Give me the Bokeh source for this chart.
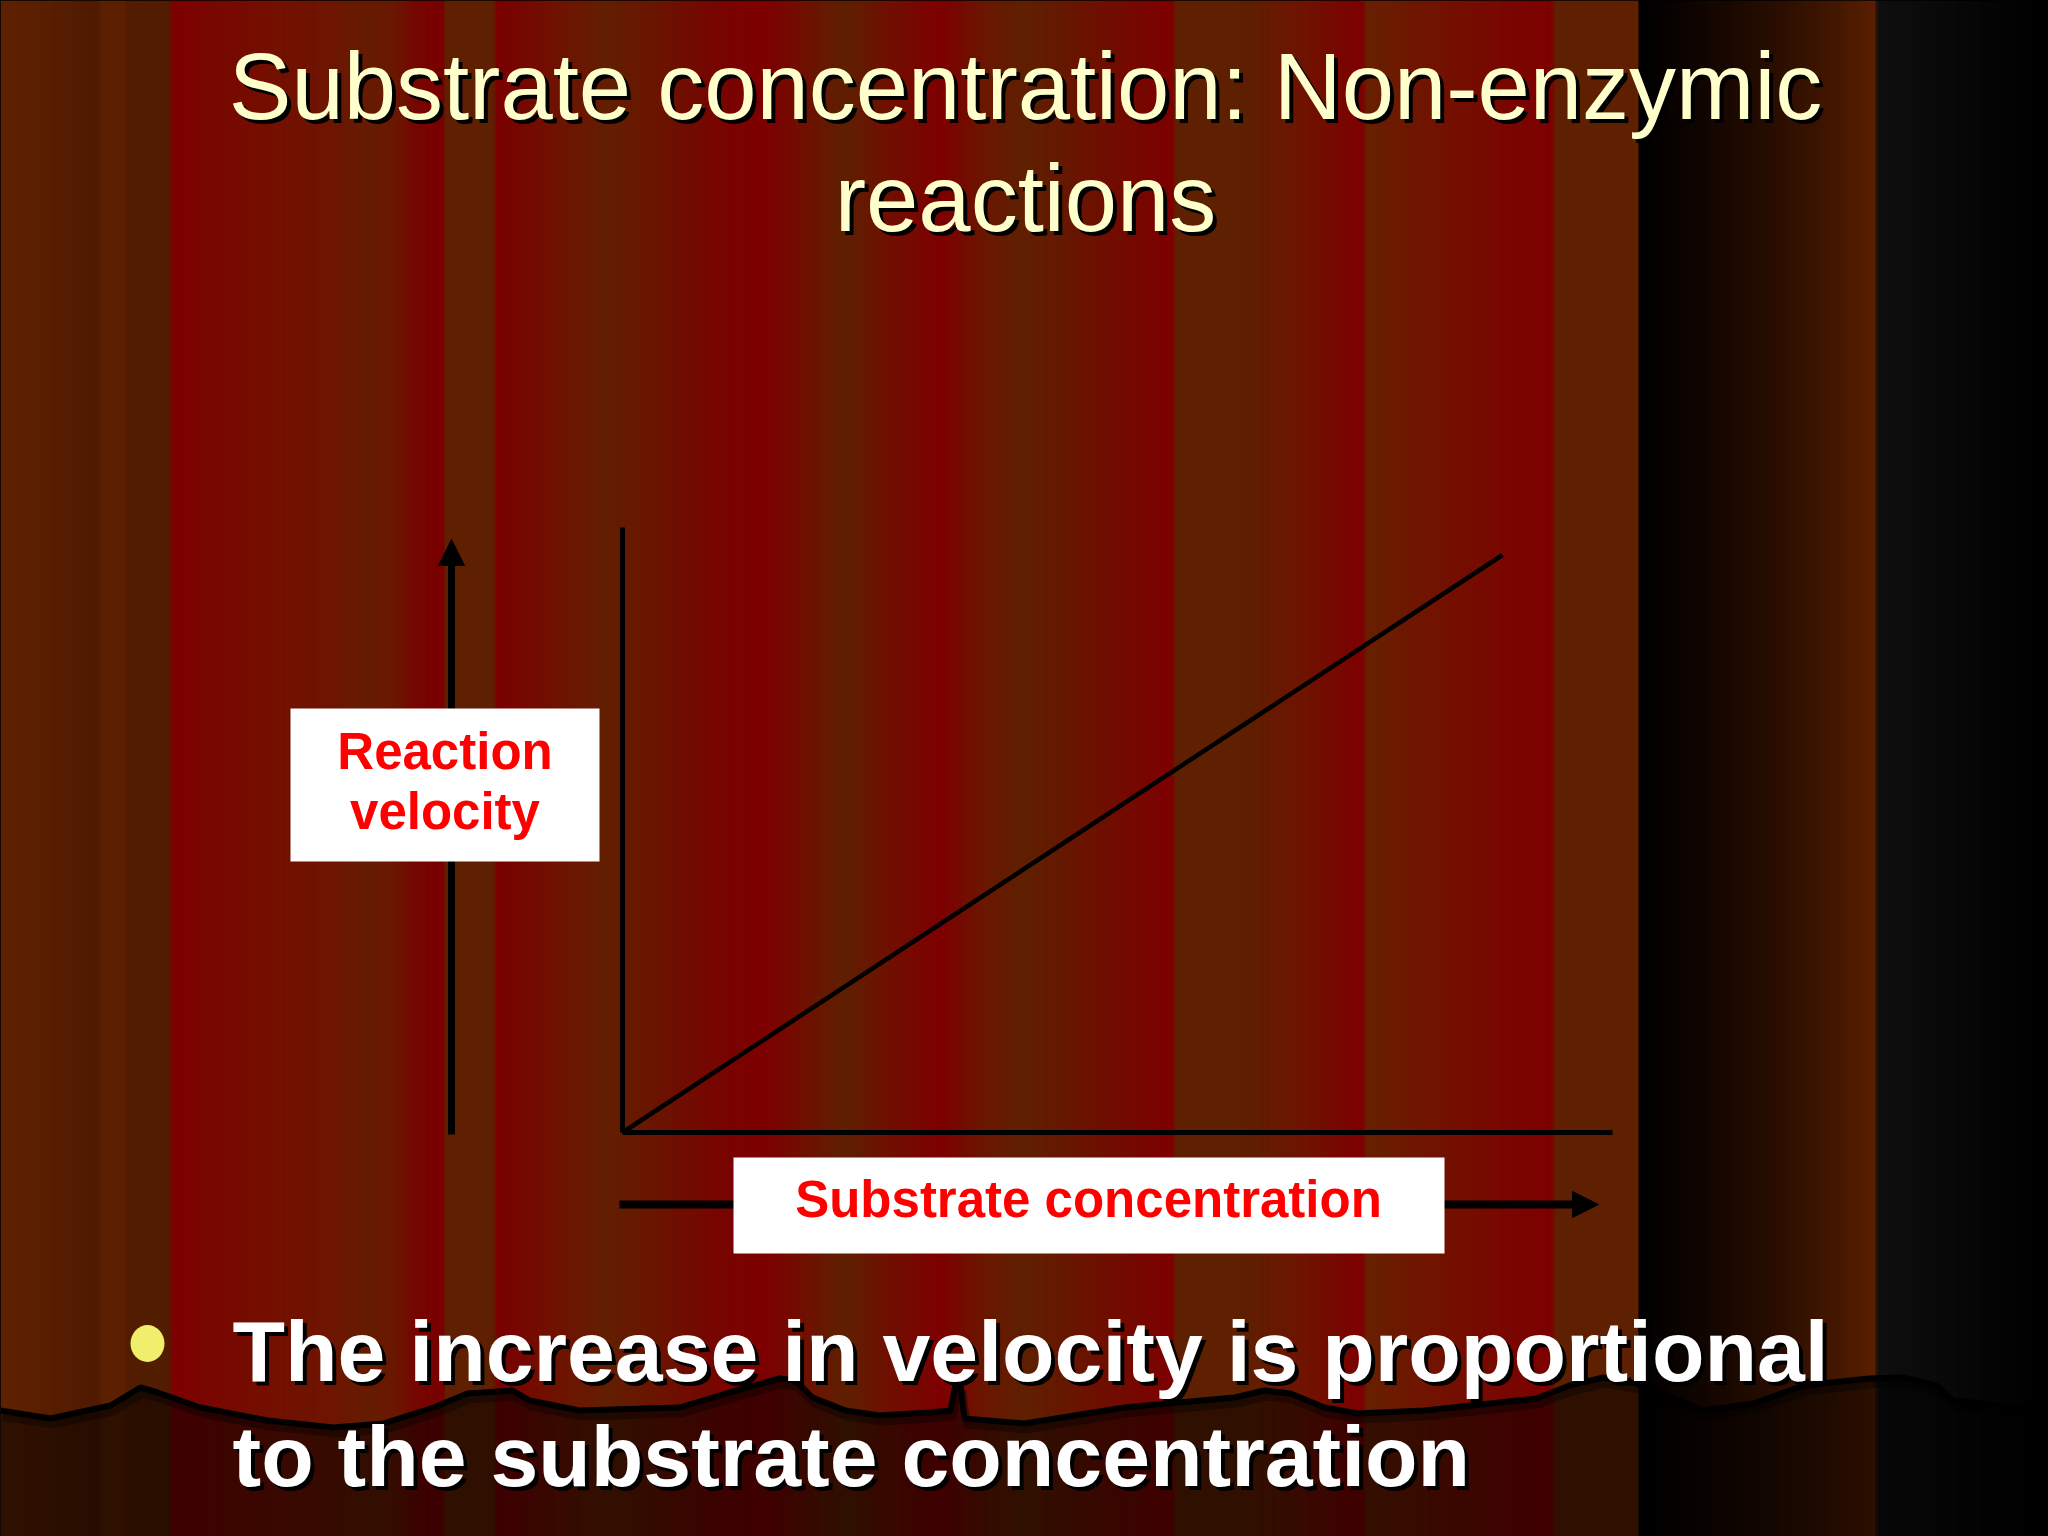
import numpy as np
from bokeh.plotting import figure
from bokeh.models import Range1d, ColumnDataSource
from bokeh.embed import file_html
from bokeh.resources import INLINE
from bokeh.core.properties import value

# ---------------- data ----------------
substrate_concentration = [0, 8]
reaction_velocity = [0, 5.25]
x_axis_extent = [0, 9]
y_axis_extent = [0, 5.5]

title_lines = ["Substrate concentration: Non-enzymic", "reactions"]
bullet_lines = ["The increase in velocity is proportional", "to the substrate concentration"]
y_label_lines = ["Reaction", "velocity"]
x_label = ["Substrate concentration"]

# ---------------- layout / style ----------------
W, H = 2048, 1536
X0, Y0, S = 622, 1132, 110   # chart origin (px) and px per data unit
FONT = value("Liberation Sans")
BL = 0.345                   # baseline correction (fraction of font size)

p = figure(width=W, height=H, x_range=Range1d(0, W), y_range=Range1d(H, 0),
           output_backend="svg", toolbar_location=None, min_border=0,
           x_axis_location=None, y_axis_location=None,
           outline_line_color=None, background_fill_color="#000000",
           border_fill_color="#000000")
p.grid.visible = False
p.extra_x_ranges = {"data": Range1d(-X0 / S, (W - X0) / S)}
p.extra_y_ranges = {"data": Range1d(-(H - Y0) / S, Y0 / S)}

# curtain background stripes (decoration)
stops = [
    (0, "#5f2100"), (40, "#5a1f00"), (98, "#4f1a00"), (101, "#5c2000"), (124, "#5c2000"),
    (126, "#521c00"), (169, "#521c00"),
    (171, "#7e0000"), (216, "#780800"), (274, "#741000"), (327, "#6e1500"), (366, "#661c00"),
    (392, "#6a1800"), (418, "#760600"), (443, "#7a0000"),
    (445, "#5e2000"), (493, "#5e2000"),
    (495, "#7a0000"), (555, "#701200"), (607, "#631f00"), (653, "#6a1500"), (718, "#780500"),
    (764, "#7e0000"), (803, "#701000"), (843, "#5e2000"), (888, "#701000"), (940, "#7e0000"),
    (986, "#6a1800"), (1024, "#5f2000"), (1089, "#6c1200"), (1173, "#7e0000"),
    (1175, "#5e2000"), (1240, "#5e2000"), (1298, "#6e1500"), (1363, "#7e0000"),
    (1365, "#682000"), (1449, "#741000"), (1552, "#7e0000"),
    (1554, "#5e2000"), (1637, "#5e2000"),
    (1639, "#000000"), (1710, "#140600"), (1775, "#2a0e00"), (1840, "#461800"), (1875, "#5a2000"),
    (1877, "#0f0f0f"), (2048, "#000000"),
]
sx = np.array([s[0] for s in stops], dtype=float)
srgb = np.array([[int(c[1:3], 16), int(c[3:5], 16), int(c[5:7], 16)] for _, c in stops], dtype=float)
step = 3
left = np.arange(0, W, step)
cent = left + step / 2
cols = []
for cx in cent:
    r = np.interp(cx, sx, srgb[:, 0]); g = np.interp(cx, sx, srgb[:, 1]); b = np.interp(cx, sx, srgb[:, 2])
    cols.append("#%02x%02x%02x" % (int(r), int(g), int(b)))
p.quad(left=left, right=left + step + 0.6, top=0, bottom=H, fill_color=cols, line_color=None)

# curtain bottom hem (decoration)
wave_x = [0, 50, 110, 140, 157, 200, 267, 333, 383, 433, 467, 512, 529, 579, 679, 729, 779, 795,
          812, 845, 879, 929, 950, 955, 960, 964, 1024, 1124, 1234, 1264, 1290, 1324, 1357, 1424,
          1490, 1536, 1569, 1603, 1636, 1703, 1753, 1803, 1869, 1903, 1936, 1953, 2048]
wave_y = [1410, 1418, 1405, 1387, 1392, 1407, 1420, 1427, 1423, 1407, 1393, 1390, 1400, 1410, 1407,
          1392, 1378, 1380, 1397, 1410, 1415, 1412, 1410, 1385, 1385, 1418, 1423, 1407, 1397, 1390,
          1393, 1407, 1413, 1410, 1403, 1398, 1385, 1377, 1383, 1410, 1403, 1385, 1378, 1377, 1385,
          1400, 1410]
p.patch(wave_x + [W, 0], wave_y + [H, H], fill_color="#000000", fill_alpha=0.5, line_color=None)
p.line([x + 2 for x in wave_x], [y + 6 for y in wave_y], line_color="#000000", line_width=8, line_alpha=0.35)
p.line(wave_x, wave_y, line_color="#000000", line_width=6)

# title with shadow
TS = 94
tx = [1025, 1025]
ty = [118 - BL * TS, 230 - BL * TS]
p.text(x=[v + 4 for v in tx], y=[v + 4 for v in ty], text=title_lines, text_font=FONT,
       text_font_size=f"{TS}px", text_align="center", text_baseline="alphabetic", text_color="#000000")
p.text(x=tx, y=ty, text=title_lines, text_font=FONT, text_font_size=f"{TS}px",
       text_align="center", text_baseline="alphabetic", text_color="#ffffcc")

# left "velocity" arrow (decoration)
p.segment(x0=[451], y0=[1134], x1=[451], y1=[560], line_color="#000000", line_width=7)
p.patch([451, 438, 464], [539, 565, 565], fill_color="#000000", line_color="#000000")
# bottom "concentration" arrow (decoration)
p.segment(x0=[619], y0=[1204], x1=[1576], y1=[1204], line_color="#000000", line_width=8)
p.patch([1598, 1572, 1572], [1204, 1191, 1217], fill_color="#000000", line_color="#000000")

# chart axes and proportional line (data space)
p.line(x=[0, 0], y=y_axis_extent, x_range_name="data", y_range_name="data",
       line_color="#000000", line_width=5)
p.line(x=x_axis_extent, y=[0, 0], x_range_name="data", y_range_name="data",
       line_color="#000000", line_width=5)
src = ColumnDataSource(dict(x=substrate_concentration, y=reaction_velocity))
p.line("x", "y", source=src, x_range_name="data", y_range_name="data",
       line_color="#000000", line_width=4.5)

# label boxes
LS = 51
p.quad(left=[290, 733], right=[599, 1444], top=[708, 1157], bottom=[861, 1253],
       fill_color="#ffffff", line_color=None)
p.text(x=[444.5, 444.5], y=[769 - BL * LS, 829 - BL * LS], text=y_label_lines, text_font=FONT,
       text_font_size=f"{LS}px", text_font_style="bold", text_align="center",
       text_baseline="alphabetic", text_color="#ff0000")
p.text(x=[1088], y=[1217 - BL * LS], text=x_label, text_font=FONT,
       text_font_size=f"{LS}px", text_font_style="bold", text_align="center",
       text_baseline="alphabetic", text_color="#ff0000")

# bullet
BS = 86
p.ellipse(x=[147], y=[1343], width=34, height=37, fill_color="#efef6b", line_color=None)
bx = [232, 232]
by = [1380 - BL * BS, 1485 - BL * BS]
p.text(x=[v + 4 for v in bx], y=[v + 4 for v in by], text=bullet_lines, text_font=FONT,
       text_font_size=f"{BS}px", text_font_style="bold", text_align="left",
       text_baseline="alphabetic", text_color="#000000")
p.text(x=bx, y=by, text=bullet_lines, text_font=FONT, text_font_size=f"{BS}px",
       text_font_style="bold", text_align="left", text_baseline="alphabetic",
       text_color="#ffffff")

html = file_html(p, INLINE, title="Substrate concentration: Non-enzymic reactions")
html = html.replace("<head>", "<head><style>html,body{margin:0;padding:0;overflow:hidden;background:#000000}</style>", 1)
open("out.html", "w").write(html)
